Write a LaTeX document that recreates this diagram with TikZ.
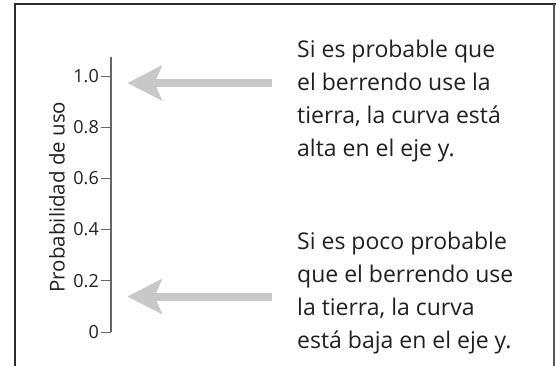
\documentclass[tikz,border=0pt]{standalone}
\usepackage{fontspec}
\setmainfont{Open Sans}
\usetikzlibrary{arrows.meta, positioning}
\definecolor{framegray}{HTML}{2B2B2B}
\definecolor{axisgray}{HTML}{666666}
\definecolor{arrowgray}{HTML}{C8C8C8}
\definecolor{textgray}{HTML}{231F20}
\tikzset{
    framepath/.style = {draw=framegray, line width=2pt},
    axisline/.style = {draw=axisgray, line width=2pt},
    tickline/.style = {draw=axisgray, line width=0.9pt},
    ticknode/.style = {draw=none, fill=none, rectangle, inner sep=1.5pt, anchor=east, 
      text=textgray, font=\fontsize{18}{20}\selectfont},
    axislabel/.style = {draw=none, fill=none, rectangle, inner sep=0pt, rotate=90, 
      text=textgray, font=\fontsize{20.5}{24}\selectfont},
    textnode/.style = {draw=none, fill=none, rectangle, inner sep=0pt, anchor=base west, 
      align=left, text=textgray, font=\fontsize{23}{33}\selectfont},
    greyarrow/.style = {draw=arrowgray, line width=8pt, 
      -{Stealth[length=35pt, width=36pt, inset=8pt, line width=0pt]}},
    every text node part/.style={align=left}
}

\begin{document}
\begin{tikzpicture}[x=1pt, y=-1pt]
    \useasboundingbox (0,0) rectangle (556,366);
    \draw[framepath] (15,366) -- (15,4) -- (556,4); 
    \draw[framepath, line width=1.5pt, draw=framegray!80] (554,4) -- (554,366); 

    % eje y
    \coordinate (axtop) at (110.5,57); 
    \coordinate (axbot) at (110.5,332); 
    \draw[axisline] (axtop) -- (axbot); 
    \foreach \lab [count=\i from 0] in {0,0.2,0.4,0.6,0.8,1.0} {
        \coordinate (tick\i) at (110.5,332-51.2*\i); 
        \node [ticknode, name=lab\i] at (100.5,332-51.2*\i) {\lab}; 
        \draw[tickline] (lab\i.east) -- (tick\i); 
    }
    \node [axislabel, name=ylabel] at (57,197) {Probabilidad de uso}; 

    % textos (el ancla base es la ultima linea)
    \node [textnode, name=hightext] at (297,157) 
        {Si es probable que\\el berrendo use la\\tierra, la curva está\\alta en el eje y.}; 
    \node [textnode, name=lowtext] at (297,348) 
        {Si es poco probable\\que el berrendo use\\la tierra, la curva\\está baja en el eje y.}; 

    % flechas
    \coordinate (hitail) at (271.5,83); 
    \coordinate (hitip) at (127.5,83); 
    \coordinate (lotail) at (271.5,296.5); 
    \coordinate (lotip) at (127.5,296.5); 
    \draw[greyarrow] (hitail) -- (hitip); 
    \draw[greyarrow] (lotail) -- (lotip); 
\end{tikzpicture}
\end{document}
